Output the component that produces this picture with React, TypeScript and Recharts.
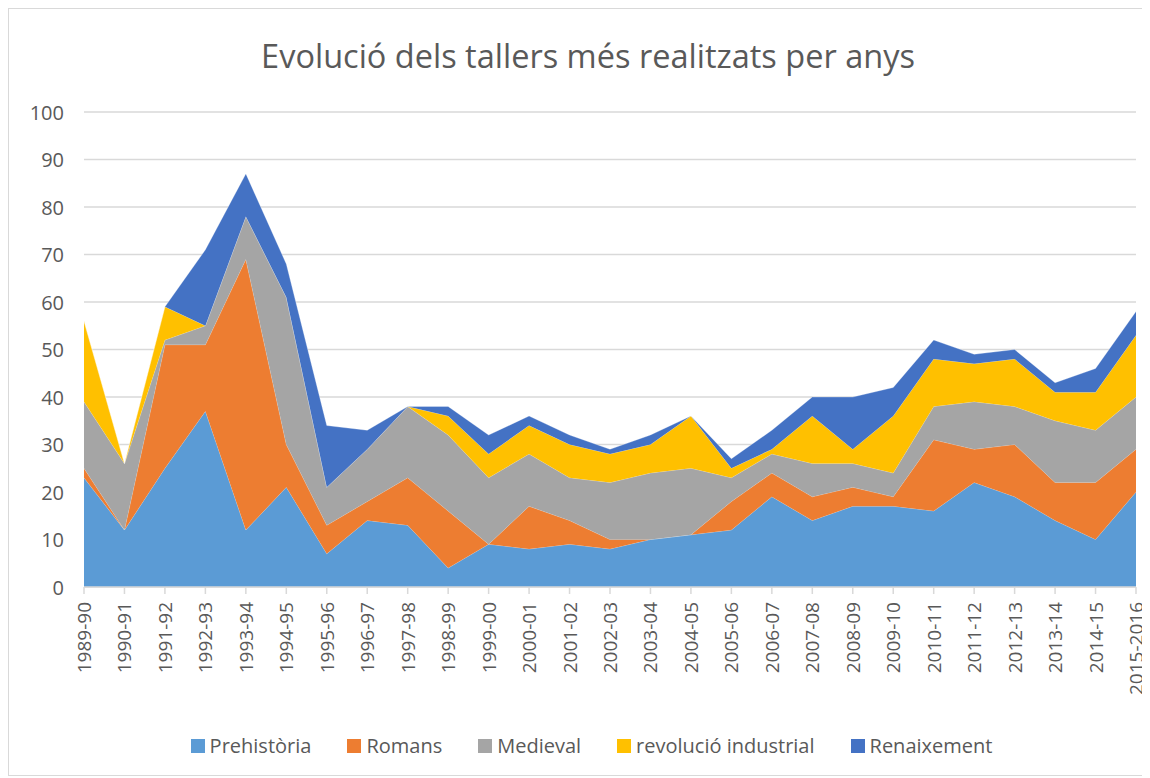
import React from 'react';
import { AreaChart, Area, XAxis, YAxis, CartesianGrid } from 'recharts';

// Cursos
const years = [
  '1989-90', '1990-91', '1991-92', '1992-93', '1993-94', '1994-95', '1995-96', '1996-97', '1997-98',
  '1998-99', '1999-00', '2000-01', '2001-02', '2002-03', '2003-04', '2004-05', '2005-06', '2006-07',
  '2007-08', '2008-09', '2009-10', '2010-11', '2011-12', '2012-13', '2013-14', '2014-15', '2015-2016',
];

const prehistoria = [23, 12, 25, 37, 12, 21, 7, 14, 13, 4, 9, 8, 9, 8, 10, 11, 12, 19, 14, 17, 17, 16, 22, 19, 14, 10, 20];
const romans = [2, 0, 26, 14, 57, 9, 6, 4, 10, 12, 0, 9, 5, 2, 0, 0, 6, 5, 5, 4, 2, 15, 7, 11, 8, 12, 9];
const medieval = [14, 14, 1, 4, 9, 31, 8, 11, 15, 16, 14, 11, 9, 12, 14, 14, 5, 4, 7, 5, 5, 7, 10, 8, 13, 11, 11];
const revolucio = [17, 0, 7, 0, 0, 0, 0, 0, 0, 4, 5, 6, 7, 6, 6, 11, 2, 1, 10, 3, 12, 10, 8, 10, 6, 8, 13];
const renaixement = [0, 0, 0, 16, 9, 7, 13, 4, 0, 2, 4, 2, 2, 1, 2, 0, 2, 4, 4, 11, 6, 4, 2, 2, 2, 5, 5];

const yTicks = [0, 10, 20, 30, 40, 50, 60, 70, 80, 90, 100];

const series = [
  { key: 'prehistoria', name: 'Prehistòria', color: '#5B9BD5' },
  { key: 'romans', name: 'Romans', color: '#ED7D31' },
  { key: 'medieval', name: 'Medieval', color: '#A5A5A5' },
  { key: 'revolucio', name: 'revolució industrial', color: '#FFC000' },
  { key: 'renaixement', name: 'Renaixement', color: '#4472C4' },
];

const chartData = years.map((year, i) => ({
  year,
  prehistoria: prehistoria[i],
  romans: romans[i],
  medieval: medieval[i],
  revolucio: revolucio[i],
  renaixement: renaixement[i],
}));

const FONT = '"Open Sans", Lato, sans-serif';
const TEXT = '#595959';

const XTick = (props: any) => {
  const { x, y, payload } = props;
  return (
    <text
      x={x}
      y={y}
      transform={`rotate(-90, ${x}, ${y})`}
      textAnchor="end"
      dominantBaseline="central"
      fill={TEXT}
      fontSize={19}
      fontFamily={FONT}
    >
      {payload.value}
    </text>
  );
};

const YTick = (props: any) => {
  const { x, y, payload } = props;
  return (
    <text x={x} y={y} textAnchor="end" dominantBaseline="central" fill={TEXT} fontSize={20} fontFamily={FONT}>
      {payload.value}
    </text>
  );
};

export default function App() {
  return (
    <div
      style={{
        position: 'relative',
        width: 1140,
        height: 766,
        border: '1px solid #d9d9d9',
        fontFamily: FONT,
        background: '#fff',
      }}
    >
      <div
        style={{
          position: 'absolute',
          top: 27,
          left: 0,
          width: 1158,
          textAlign: 'center',
          fontSize: 32.5,
          lineHeight: '40px',
          color: TEXT,
        }}
      >
        Evolució dels tallers més realitzats per anys
      </div>
      <div style={{ position: 'absolute', top: 0, left: 0 }}>
        <AreaChart width={1140} height={766} data={chartData} margin={{ top: 103, right: 13, left: 25, bottom: 61 }}>
          <CartesianGrid vertical={false} stroke="#d9d9d9" strokeWidth={1.5} />
          <XAxis
            dataKey="year"
            interval={0}
            height={127}
            axisLine={{ stroke: '#d9d9d9', strokeWidth: 1.5 }}
            tickLine={{ stroke: '#d9d9d9', strokeWidth: 1.5 }}
            tickSize={7}
            tick={<XTick />}
            tickMargin={8}
          />
          <YAxis
            domain={[0, 100]}
            ticks={yTicks}
            width={50}
            axisLine={false}
            tickLine={false}
            tick={<YTick />}
            tickMargin={14}
          />
          {series.map((s) => (
            <Area
              key={s.key}
              type="linear"
              dataKey={s.key}
              name={s.name}
              stackId="1"
              stroke="#ffffff"
              strokeOpacity={0.35}
              strokeWidth={0.8}
              fill={s.color}
              fillOpacity={1}
              dot={false}
              activeDot={false}
              isAnimationActive={false}
            />
          ))}
        </AreaChart>
      </div>
      <div
        style={{
          position: 'absolute',
          top: 723,
          left: 0,
          width: 1165,
          display: 'flex',
          justifyContent: 'center',
          fontSize: 20,
          lineHeight: '28px',
          color: TEXT,
        }}
      >
        {series.map((s) => (
          <div key={s.key} style={{ display: 'flex', alignItems: 'center', margin: '0 18px' }}>
            <span style={{ width: 14, height: 14, background: s.color, display: 'inline-block', marginRight: 5 }} />
            <span>{s.name}</span>
          </div>
        ))}
      </div>
    </div>
  );
}
